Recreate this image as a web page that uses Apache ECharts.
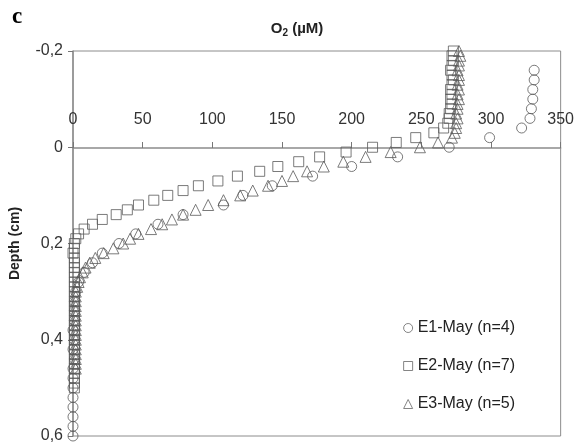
<!DOCTYPE html>
<html>
<head>
<meta charset="utf-8">
<script src="https://cdn.jsdelivr.net/npm/echarts@6/dist/echarts.min.js"></script>
<style>html,body{margin:0;padding:0;background:#fff}#c{width:577px;height:448px}</style>
</head>
<body>
<div id="c"></div>
<script>
// ---- data (depth in cm, O2 in µM) ----
const xTicks = [0, 50, 100, 150, 200, 250, 300, 350];
const yTicks = [-0.2, 0, 0.2, 0.4, 0.6];

const depthE1 = [-0.16,-0.14,-0.12,-0.10,-0.08,-0.06,-0.04,-0.02,0,0.02,0.04,0.06,0.08,0.10,0.12,0.14,0.16,0.18,0.20,0.22,0.24,0.26,0.28,0.30,0.32,0.34,0.36,0.38,0.40,0.42,0.44,0.46,0.48,0.50,0.52,0.54,0.56,0.58,0.60];
const o2E1    = [331,331,330,330,329,328,322,299,270,233,200,172,143,122,108,79,61,45,33,21,14,8,4,2,1,1,1,0,1,0,1,0,0,0,0,0,0,0,0];

const depthE2 = [-0.20,-0.19,-0.18,-0.17,-0.16,-0.15,-0.14,-0.13,-0.12,-0.11,-0.10,-0.09,-0.08,-0.07,-0.06,-0.05,-0.04,-0.03,-0.02,-0.01,0,0.01,0.02,0.03,0.04,0.05,0.06,0.07,0.08,0.09,0.10,0.11,0.12,0.13,0.14,0.15,0.16,0.17,0.18,0.19,0.20,0.21,0.22,0.23,0.24,0.25,0.26,0.27,0.28,0.29,0.30,0.31,0.32,0.33,0.34,0.35,0.36,0.37,0.38,0.39,0.40,0.41,0.42,0.43,0.44,0.45,0.46,0.47,0.48,0.49,0.50];
const o2E2    = [273,272,273,272,271,272,273,272,271,272,271,272,271,270,270,269,266,259,246,232,215,196,177,162,147,134,118,104,90,79,68,58,47,39,31,21,14,8,4,2,1,1,0,1,1,1,1,1,1,1,1,1,1,1,1,1,1,1,1,1,1,1,1,1,1,1,1,1,1,1,1];

const depthE3 = [-0.20,-0.19,-0.18,-0.17,-0.16,-0.15,-0.14,-0.13,-0.12,-0.11,-0.10,-0.09,-0.08,-0.07,-0.06,-0.05,-0.04,-0.03,-0.02,-0.01,0,0.01,0.02,0.03,0.04,0.05,0.06,0.07,0.08,0.09,0.10,0.11,0.12,0.13,0.14,0.15,0.16,0.17,0.18,0.19,0.20,0.21,0.22,0.23,0.24,0.25,0.26,0.27,0.28,0.29,0.30,0.31,0.32,0.33,0.34,0.35,0.36,0.37,0.38,0.39,0.40,0.41,0.42,0.43,0.44,0.45,0.46];
const o2E3    = [277,278,277,277,276,277,277,276,277,276,277,276,276,275,276,275,275,274,272,262,249,228,210,194,180,168,158,150,140,129,120,108,97,88,79,71,64,56,47,41,36,29,22,16,12,9,7,5,4,3,2,2,2,2,2,2,2,2,2,2,2,2,2,2,2,2,2];

const seriesNames = ['E1-May (n=4)', 'E2-May (n=7)', 'E3-May (n=5)'];
const xTitle = ['O', '2', ' (µM)'];
const yTitle = 'Depth (cm)';

function pairs(xs, ys){ return xs.map((x,i)=>[x, ys[i]]); }

const chart = echarts.init(document.getElementById('c'), null, {renderer:'canvas'});
const markStyle = {color:'rgba(0,0,0,0)', borderColor:'#5a5a5a', borderWidth:1};
const fmt = v => (Math.round(v*10)/10 === 0 ? '0' : String(Math.round(v*10)/10).replace('.', ','));
const FONT = 'Liberation Sans, Arial, sans-serif';

chart.setOption({
  animation:false,
  backgroundColor:'#fff',
  textStyle:{fontFamily:FONT},
  graphic:[
    {type:'text', left:12, top:6, style:{text:'c', font:'bold 23px "Liberation Serif", "Times New Roman", serif', fill:'#000'}},
    {type:'text', x:297, y:29, style:{
      text:'{a|' + xTitle[0] + '}{s|' + xTitle[1] + '}{a|' + xTitle[2] + '}',
      align:'center', verticalAlign:'middle',
      rich:{a:{fontSize:15, fontWeight:'bold', fill:'#222', fontFamily:FONT},
            s:{fontSize:10, fontWeight:'bold', fill:'#222', fontFamily:FONT, padding:[8,0,0,0]}}}}
  ],
  grid:{left:73, right:15, top:51, bottom:12, show:true, borderColor:'#8c8c8c', borderWidth:1, backgroundColor:'#fff'},
  legend:{
    orient:'vertical', right:57, top:314, itemGap:20, itemWidth:9, itemHeight:9, itemTextGap:3,
    data:[{name:seriesNames[0], icon:'circle'},{name:seriesNames[1], icon:'rect'},{name:seriesNames[2], icon:'triangle'}],
    textStyle:{fontSize:16, lineHeight:18, color:'#222', fontFamily:FONT},
    itemStyle:{color:'rgba(0,0,0,0)', borderColor:'#666', borderWidth:1}
  },
  xAxis:{
    type:'value', min:0, max:350, interval:50, position:'top', offset:-97,
    axisLine:{show:true, onZero:false, lineStyle:{color:'#8c8c8c', width:1.5}},
    axisTick:{show:true, inside:false, length:6, lineStyle:{color:'#777'}},
    axisLabel:{margin:20, fontSize:16, color:'#333', formatter:v=>String(v)},
    splitLine:{show:false}
  },
  yAxis:{
    type:'value', min:-0.2, max:0.6, interval:0.2, inverse:true,
    name:yTitle, nameLocation:'middle', nameGap:51, nameRotate:90,
    nameTextStyle:{fontSize:14, fontWeight:'bold', color:'#222'},
    axisLine:{show:true, onZero:false, lineStyle:{color:'#8c8c8c', width:1.5}},
    axisTick:{show:true, inside:false, length:5, lineStyle:{color:'#777'}},
    axisLabel:{margin:10, fontSize:16, color:'#333', formatter:fmt},
    splitLine:{show:false}
  },
  series:[
    {name:seriesNames[0], type:'scatter', symbol:'circle', symbolSize:10, itemStyle:markStyle, data:pairs(o2E1, depthE1)},
    {name:seriesNames[1], type:'scatter', symbol:'rect', symbolSize:10, itemStyle:markStyle, data:pairs(o2E2, depthE2)},
    {name:seriesNames[2], type:'scatter', symbol:'triangle', symbolSize:11, itemStyle:markStyle, data:pairs(o2E3, depthE3)}
  ]
});
</script>
</body>
</html>
